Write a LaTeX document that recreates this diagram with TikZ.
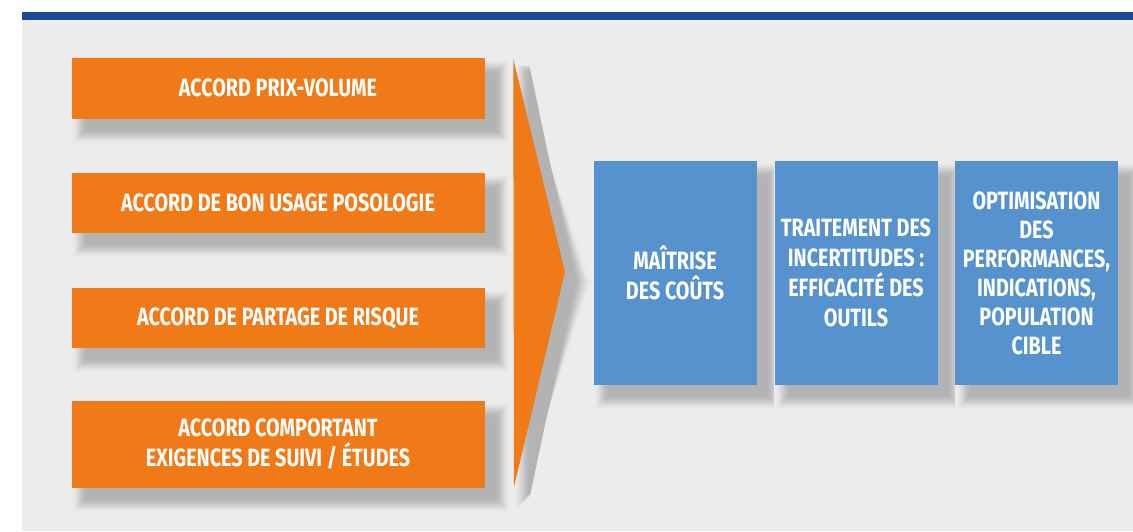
\documentclass[tikz,border=0pt]{standalone}
\usepackage{fontspec}
\setmainfont{Fira Sans}[FakeStretch=0.79]
\usetikzlibrary{calc}
\definecolor{bgray}{HTML}{ECECEC}
\definecolor{topblue}{HTML}{1B4A93}
\definecolor{accorange}{HTML}{EF7A17}
\definecolor{resblue}{HTML}{5592CE}
\pgfdeclarelayer{back}
\pgfdeclarelayer{shadow}
\pgfsetlayers{back,shadow,main}
\tikzset{
  accbox/.style={fill=accorange, text=white, inner sep=0pt, minimum width=413pt,
     align=center, font=\bfseries\fontsize{25}{30}\selectfont},
  resbox/.style={fill=resblue, text=white, inner sep=0pt, minimum width=163pt, minimum height=224pt,
     align=center, font=\bfseries\fontsize{25}{30}\selectfont}
}
% smooth shadow: layers from outside (light) to inside (dark)
\newcommand\rectshadow[1]{%
  \begin{pgfonlayer}{shadow}
  \foreach \r [evaluate=\r as \p using {24*((13-\r)/16)^2*(3-2*(13-\r)/16)}] in {13,12,...,-3}{
    \fill[black!\p!bgray] ($(#1.north west)+(13-\r,13-\r)$) rectangle ($(#1.south east)+(13+\r,13+\r)$);
  }
  \end{pgfonlayer}}
\begin{document}
\begin{tikzpicture}[x=1pt,y=-1pt]
\useasboundingbox (0,0) rectangle (1133,531);
\begin{pgfonlayer}{back}
\fill[white] (0,0) rectangle (1133,531);
\fill[bgray] (22,20) rectangle (1133,531);
\fill[topblue] (22,12) rectangle (1133,20);
\end{pgfonlayer}
\node[accbox, minimum height=60.5pt] (a1) at (278,88.3) {\raisebox{-1.5pt}{ACCORD PRIX-VOLUME}};
\node[accbox, minimum height=60.5pt] (a2) at (278,203) {\raisebox{-1.5pt}{ACCORD DE BON USAGE POSOLOGIE}};
\node[accbox, minimum height=60.5pt] (a3) at (278,318) {\raisebox{-1.5pt}{ACCORD DE PARTAGE DE RISQUE}};
\node[accbox, minimum height=87pt] (a4) at (278,444.5) {ACCORD COMPORTANT\\EXIGENCES DE SUIVI / ÉTUDES};
\coordinate (t1) at (513.3,59);
\coordinate (t2) at (565,272);
\coordinate (t3) at (514,487);
\fill[accorange] (t1) -- (t2) -- (t3) -- cycle;
\begin{pgfonlayer}{shadow}
\foreach \r [evaluate=\r as \p using {24*((13-\r)/16)^2*(3-2*(13-\r)/16)}] in {13,12,...,-3}{
  \fill[black!\p!bgray] ($(t1)+(13-\r,6)$) -- ($(t2)+(13+1.1*\r,10)$) -- ($(t3)+(13-\r,12+\r)$) -- cycle;
}
\end{pgfonlayer}
\node[resbox] (b1) at (675,273) {MAÎTRISE\\DES COÛTS};
\node[resbox] (b2) at (856,273) {TRAITEMENT DES\\INCERTITUDES :\\EFFICACITÉ DES\\OUTILS};
\node[resbox, font=\bfseries\fontsize{25}{29}\selectfont] (b3) at (1036.5,273) {OPTIMISATION\\DES\\PERFORMANCES,\\INDICATIONS,\\POPULATION\\CIBLE};
\rectshadow{a1}\rectshadow{a2}\rectshadow{a3}\rectshadow{a4}
\rectshadow{b1}\rectshadow{b2}\rectshadow{b3}
\end{tikzpicture}
\end{document}
